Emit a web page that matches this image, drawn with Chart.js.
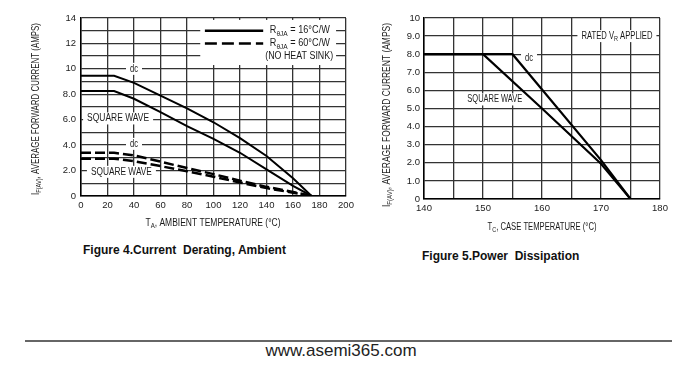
<!DOCTYPE html>
<html>
<head>
<meta charset="utf-8">
<script src="https://cdn.jsdelivr.net/npm/chart.js@4/dist/chart.umd.min.js"></script>
<style>
  body { margin: 0; background: #fff; width: 700px; height: 369px; overflow: hidden; position: relative; font-family: "Liberation Sans", Arial, sans-serif; }
  .box { position: absolute; }
  .fig { position: absolute; font-weight: bold; font-size: 12px; line-height: 14px; color: #111; white-space: pre; }
  #rule { position: absolute; left: 25px; top: 340px; width: 647px; border-top: 2px solid #666; }
  #site { position: absolute; left: 0; width: 682px; top: 341px; text-align: center; font-size: 17px; line-height: 20px; color: #222; }
</style>
</head>
<body>
<div class="box" style="left:0;top:0;width:360px;height:240px"><canvas id="ambientChart" width="360" height="240"></canvas></div>
<div class="box" style="left:360px;top:0;width:340px;height:240px"><canvas id="caseChart" width="340" height="240"></canvas></div>
<div class="fig" style="left:83px;top:243px">Figure 4.Current  Derating, Ambient</div>
<div class="fig" style="left:422px;top:249px">Figure 5.Power  Dissipation</div>
<div id="rule"></div>
<div id="site">www.asemi365.com</div>

<script>
// Figure 4 - ambient temperature derating
const ambientTemp = [0, 25, 40, 60, 80, 100, 120, 140, 160, 174];
const dcSink = [9.45, 9.45, 8.9, 7.9, 6.9, 5.8, 4.55, 3.15, 1.4, 0];
const squareSink = [8.25, 8.25, 7.65, 6.6, 5.5, 4.5, 3.4, 2.1, 0.8, 0];
const dcNoSink = [3.4, 3.4, 3.2, 2.7, 2.2, 1.72, 1.2, 0.72, 0.32, 0];
const squareNoSink = [2.93, 2.93, 2.74, 2.35, 1.95, 1.52, 1.06, 0.62, 0.26, 0];
const ambientYLabels = ["0", "2.0", "4.0", "6.0", "8.0", "10", "12", "14"];

// Figure 5 - case temperature
const caseTempDc = [140, 155, 170, 175];
const dcCase = [8, 8, 2.15, 0];
const caseTempSquare = [140, 150, 160, 170, 175];
const squareCase = [8, 8, 5, 1.95, 0];
const caseYLabels = ["0", "1.0", "2.0", "3.0", "4.0", "5.0", "6.0", "7.0", "8.0", "9.0", "10"];

const FONT = '"Liberation Sans", Arial, sans-serif';

function toPoints(xs, ys) {
  return xs.map((x, i) => ({ x: x, y: ys[i] }));
}

// texte avec indices, comprimé horizontalement à la largeur voulue
function drawRich(ctx, parts, o) {
  const size = o.size || 10;
  ctx.save();
  let natural = 0;
  const widths = parts.map((p) => {
    ctx.font = (p[1] ? size * 0.72 : size) + "px " + FONT;
    const w = ctx.measureText(p[0]).width;
    natural += w;
    return w;
  });
  const sx = o.width ? o.width / natural : 1;
  ctx.translate(o.x, o.y);
  if (o.rotate) ctx.rotate(o.rotate);
  ctx.scale(sx, 1);
  let start = o.align === "left" ? 0 : -natural / 2;
  if (o.bg) {
    ctx.fillStyle = "#fff";
    ctx.fillRect(start - 4 / sx, -size * 0.6, natural + 8 / sx, size * 1.2);
  }
  ctx.fillStyle = o.color || "#1a1a1a";
  ctx.textBaseline = "middle";
  ctx.textAlign = "left";
  parts.forEach((p, i) => {
    ctx.font = (p[1] ? size * 0.72 : size) + "px " + FONT;
    ctx.fillText(p[0], start, p[1] ? size * 0.32 : 0);
    start += widths[i];
  });
  ctx.restore();
}

const sheetText = {
  id: "sheetText",
  beforeDatasetsDraw(chart, args, opts) {
    const ctx = chart.ctx;
    const xs = chart.scales.x, ys = chart.scales.y;
    if (opts.legend) {
      const lg = opts.legend;
      const x0 = xs.getPixelForValue(lg.x0), x1 = xs.getPixelForValue(lg.x1);
      const y0 = ys.getPixelForValue(lg.y0), y1 = ys.getPixelForValue(lg.y1);
      ctx.save();
      ctx.fillStyle = "#fff";
      ctx.fillRect(x0, y0, x1 - x0, y1 - y0);
      lg.rows.forEach((r) => {
        const y = ys.getPixelForValue(r.y);
        if (r.dash !== undefined) {
          ctx.strokeStyle = "#000";
          ctx.lineWidth = 2.5;
          ctx.setLineDash(r.dash);
          ctx.beginPath();
          ctx.moveTo(xs.getPixelForValue(lg.s0), y);
          ctx.lineTo(xs.getPixelForValue(lg.s1), y);
          ctx.stroke();
          ctx.setLineDash([]);
        }
        drawRich(ctx, r.parts, { x: xs.getPixelForValue(r.tx), y: y, size: 10, width: r.w, align: "left" });
      });
      ctx.restore();
    }
    (opts.notes || []).forEach((n) => {
      drawRich(ctx, n.parts, { x: xs.getPixelForValue(n.x), y: ys.getPixelForValue(n.y), size: n.size || 10, width: n.w, bg: true });
    });
  },
  afterDraw(chart, args, opts) {
    (opts.titles || []).forEach((t) => {
      drawRich(chart.ctx, t.parts, t);
    });
  },
};

function axisStyle(extra) {
  return Object.assign({
    type: "linear",
    grid: { color: "#333", lineWidth: 1.3, drawTicks: false },
    border: { color: "#000", width: 1.5 },
  }, extra);
}

function lineSet(data, dash, width) {
  return {
    data: data,
    showLine: true,
    borderColor: "#000",
    borderWidth: width,
    borderDash: dash,
    pointRadius: 0,
    fill: false,
    tension: 0,
  };
}

const yTitleParts = [["I", 0], ["F(AV)", 1], [", AVERAGE FORWARD CURRENT (AMPS)", 0]];

new Chart(document.getElementById("ambientChart"), {
  type: "scatter",
  data: {
    datasets: [
      lineSet(toPoints(ambientTemp, dcSink), [], 2),
      lineSet(toPoints(ambientTemp, squareSink), [], 2),
      lineSet(toPoints(ambientTemp, dcNoSink), [10, 4], 2.5),
      lineSet(toPoints(ambientTemp, squareNoSink), [10, 4], 2.5),
    ],
  },
  options: {
    responsive: false,
    animation: false,
    layout: { padding: { left: 45, right: 14, top: 18, bottom: 20 } },
    plugins: {
      legend: { display: false },
      tooltip: { enabled: false },
      sheetText: {
        legend: {
          x0: 90, x1: 192.5, y0: 13.85, y1: 10.3, s0: 93.5, s1: 137.5,
          rows: [
            { y: 13, dash: [], tx: 142.5, w: 60, parts: [["R", 0], ["θJA", 1], [" = 16°C/W", 0]] },
            { y: 12, dash: [12, 5], tx: 142.5, w: 60, parts: [["R", 0], ["θJA", 1], [" = 60°C/W", 0]] },
            { y: 11, tx: 139, w: 68, parts: [["(NO HEAT SINK)", 0]] },
          ],
        },
        notes: [
          { x: 40, y: 10, w: 8, parts: [["dc", 0]] },
          { x: 28, y: 6.1, w: 62, parts: [["SQUARE WAVE", 0]] },
          { x: 40, y: 4.1, w: 8, parts: [["dc", 0]] },
          { x: 30.5, y: 1.9, w: 61, parts: [["SQUARE WAVE", 0]] },
        ],
        titles: [
          { x: 213, y: 223, size: 10, width: 135, parts: [["T", 0], ["A", 1], [", AMBIENT TEMPERATURE (°C)", 0]] },
          { x: 36, y: 109, size: 10, width: 172, rotate: -Math.PI / 2, parts: yTitleParts },
        ],
      },
    },
    scales: {
      x: axisStyle({
        min: 0, max: 200,
        ticks: { stepSize: 20, padding: 4, color: "#222", font: { size: 9.5, family: FONT }, maxRotation: 0, autoSkip: false },
        afterFit: (s) => { s.height = 24; },
      }),
      y: axisStyle({
        min: 0, max: 14,
        ticks: {
          stepSize: 1, padding: 5, color: "#222", autoSkip: false, font: { size: 9.5, family: FONT },
          callback: (v) => (v % 2 === 0 ? ambientYLabels[v / 2] : ""),
        },
        afterFit: (s) => { s.width = 36; },
      }),
    },
  },
  plugins: [sheetText],
});

new Chart(document.getElementById("caseChart"), {
  type: "scatter",
  data: {
    datasets: [
      lineSet(toPoints(caseTempDc, dcCase), [], 2.2),
      lineSet(toPoints(caseTempSquare, squareCase), [], 2.2),
    ],
  },
  options: {
    responsive: false,
    animation: false,
    layout: { padding: { left: 40, right: 40, top: 18, bottom: 19 } },
    plugins: {
      legend: { display: false },
      tooltip: { enabled: false },
      sheetText: {
        notes: [
          { x: 172.7, y: 9, w: 71, parts: [["RATED V", 0], ["R", 1], [" APPLIED", 0]] },
          { x: 157.8, y: 7.8, w: 8, parts: [["dc", 0]] },
          { x: 152, y: 5.5, w: 55, parts: [["SQUARE WAVE", 0]] },
        ],
        titles: [
          { x: 182, y: 227, size: 10, width: 109, parts: [["T", 0], ["C", 1], [", CASE TEMPERATURE (°C)", 0]] },
          { x: 27, y: 115, size: 10, width: 184, rotate: -Math.PI / 2, parts: yTitleParts },
        ],
      },
    },
    scales: {
      x: axisStyle({
        min: 140, max: 180,
        ticks: {
          stepSize: 5, padding: 4, color: "#222", maxRotation: 0, autoSkip: false, font: { size: 9.5, family: FONT },
          callback: (v) => (v % 10 === 0 ? String(v) : ""),
        },
        afterFit: (s) => { s.height = 22; },
      }),
      y: axisStyle({
        min: 0, max: 10,
        ticks: {
          stepSize: 1, padding: 4, color: "#222", autoSkip: false, font: { size: 9.5, family: FONT },
          callback: (v) => caseYLabels[v],
        },
        afterFit: (s) => { s.width = 24; },
      }),
    },
  },
  plugins: [sheetText],
});
</script>
</body>
</html>
